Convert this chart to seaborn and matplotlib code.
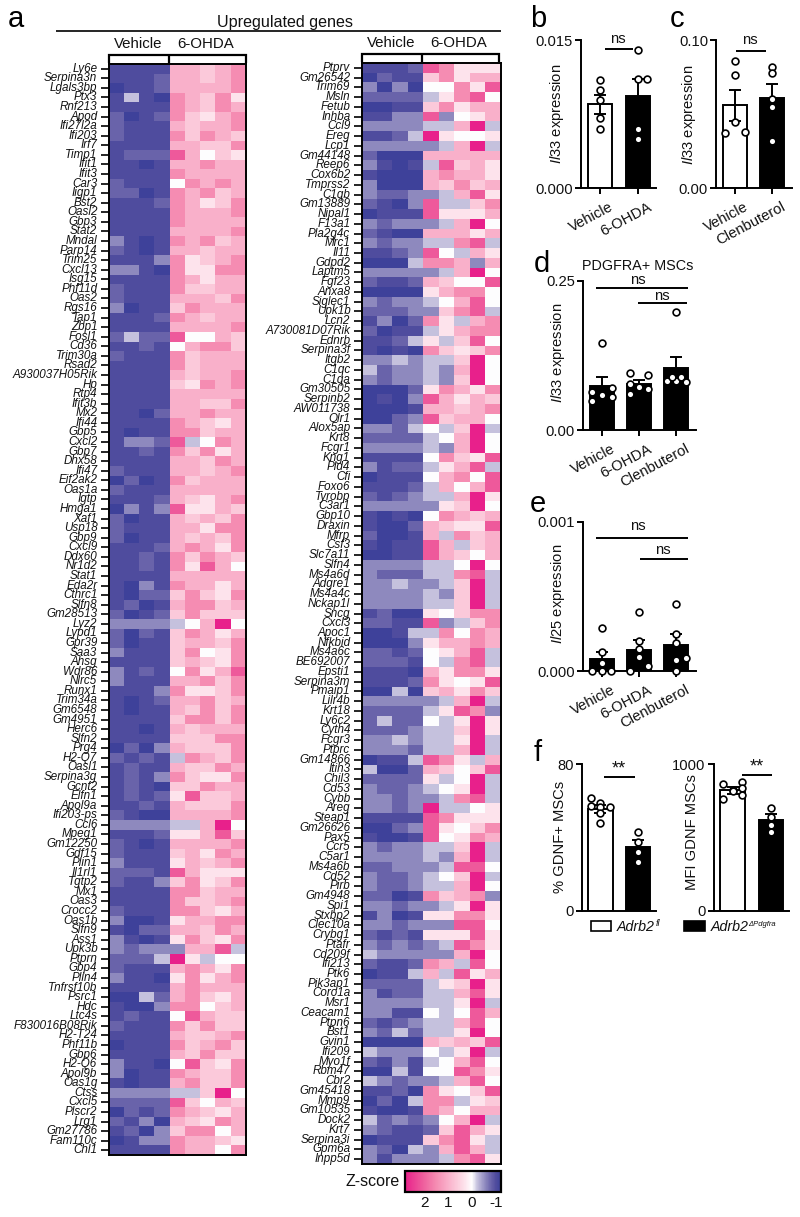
import matplotlib
matplotlib.use("Agg")
import matplotlib.pyplot as plt
from matplotlib.colors import LinearSegmentedColormap, Normalize
from matplotlib.cm import ScalarMappable
from matplotlib.transforms import ScaledTranslation
import numpy as np
import pandas as pd
import seaborn as sns

# ---------------- heatmap data ----------------
SAMPLES = ["V1", "V2", "V3", "V4", "O1", "O2", "O3", "O4", "O5"]
# z-score read from each cell's shade, coded per character
Z_CODES = {"0": -1.2, "1": -1.0, "2": -0.8, "3": -0.55, "4": -0.22, "5": 0.0,
           "6": 0.3, "7": 0.65, "8": 1.0, "9": 1.5, "y": 2.1, "x": 2.8}

LEFT_GENES = ["Ly6e","Serpina3n","Lgals3bp","Ptx3","Rnf213","Apod","Ifi27l2a","Ifi203","Irf7","Timp1",
"Ifit1","Ifit3","Car3","Iigp1","Bst2","Oasl2","Gbp3","Stat2","Mndal","Parp14",
"Trim25","Cxcl13","Isg15","Phf11d","Oas2","Rgs16","Tap1","Zbp1","Fosl1","Cd36",
"Trim30a","Rsad2","A930037H05Rik","Hp","Rtp4","Ifit3b","Mx2","Ifi44","Gbp5","Cxcl2",
"Gbp7","Dhx58","Ifi47","Eif2ak2","Oas1a","Igtp","Hmga1","Xaf1","Usp18","Gbp9",
"Cxcl9","Ddx60","Nr1d2","Stat1","Eda2r","Cthrc1","Slfn8","Gm28513","Lyz2","Lypd1",
"Gpr39","Saa3","Ahsg","Wdr86","Nlrc5","Runx1","Trim34a","Gm6548","Gm4951","Herc6",
"Slfn2","Prg4","H2-Q7","Oasl1","Serpina3g","Gcnt2","Elfn1","Apol9a","Ifi203-ps","Ccl6",
"Mpeg1","Gm12250","Gdf15","Plin1","Il1rl1","Tgtp2","Mx1","Oas3","Crocc2","Oas1b",
"Slfn9","Ass1","Upk3b","Ptprn","Gbp4","Plin4","Tnfrsf10b","Psrc1","Hdc","Ltc4s",
"F830016B08Rik","H2-T24","Phf11b","Gbp6","H2-Q6","Apol9b","Oas1g","Ctss","Cxcl5","Plscr2",
"Lrg1","Gm27786","Fam110c","Chl1"]

LEFT_ROWS = ["111188789","111288789","011288889","141098796","111198798","201297689","211187889","211197987","111188779","1222y8576",
"110188988","111198888","211159898","220198978","111298679","111198889","111198888","111188889","310198978","210188788",
"111396789","331096699","111198688","211197788","211188879","301179888","111298788","111188889","2422y5587","112158997",
"211197888","111197888","111187889","111176989","111188888","111188779","110288988","111198768","101199788","1332y4598",
"112197968","111188798","211188789","020197888","211188888","111287689","0313y6687","201187879","211188699","201187879",
"111289869","112197987","11219 6y85","111188888","103198868","102279769","120189978","201279777","33334 58x5","202179868",
"201178879","311179569","111178769","312159 68y","311188979","111396679","101288978","101187979","111179979","110187888",
"111177799","020387779","212149879","121187798","121397669","121077988","12126y778","112187779","210088889","333344 8x5",
"111266 8y7","210188889","211178698","311168789","2221y8666","211379679","111199788","111197789","211199768","300168899",
"102288798","310169769","323338 8y4","2224x6455","211189869","311069689","111189888","004289 768","100399578","12115y877",
"211197977","111187789","011197897","111187977","31105y769","301198779","101189779","333344 7x5","2222y7587","021298768",
"213087698","120379958","013398876","111198859"]

RIGHT_GENES = ["Ptprv","Gm26542","Trim69","Msln","Fetub","Inhba","Ccl9","Ereg","Lcp1","Gm44148",
"Reep6","Cox6b2","Tmprss2","C1qb","Gm13889","Nipal1","F13a1","Pla2g4c","Mrc1","Il11",
"Gdpd2","Laptm5","Fgf23","Anxa8","Siglec1","Upk1b","Lcn2","A730081D07Rik","Ednrb","Serpina3f",
"Itgb2","C1qc","C1qa","Gm30505","Serpinb2","AW011738","Olr1","Alox5ap","Krt8","Fcgr1",
"Kng1","Pld4","Cfi","Foxo6","Tyrobp","C3ar1","Gbp10","Draxin","Mfrp","Csf3",
"Slc7a11","Slfn4","Ms4a6d","Adgre1","Ms4a4c","Nckap1l","Sncg","Cxcl3","Apoc1","Nfkbid",
"Ms4a6c","BE692007","Epsti1","Serpina3m","Pmaip1","Lilr4b","Krt18","Ly6c2","Cyth4","Fcgr3",
"Ptprc","Gm14866","Itih3","Chil3","Cd53","Cybb","Areg","Steap1","Gm26626","Pax5",
"Ccr5","C5ar1","Ms4a6b","Cd52","Pirb","Gm4948","Spi1","Stxbp2","Clec10a","Crybg1",
"Ptafr","Cd209f","Ifi213","Ptk6","Pik3ap1","Coro1a","Msr1","Ceacam1","Ptpn6","Bst1",
"Gvin1","Ifi209","Myo1f","Rbm47","Cbr2","Gm45418","Mmp9","Gm10535","Dock2","Krt7",
"Serpina3i","Gpm6a","Inpp5d"]

RIGHT_ROWS = ["1112y9666","021179688","303055 9 6y","222246 9y5","001179688","1133y3568","333344 8x4","1124x6556","333334 8x4","200088888",
"31014y786","100089886","300087978","322334 8y6","2103y4479","0111y6668","323334 8x5","210088868","323344 9y4","1123y5486",
"000499838","333334 8x5","211287 55y","000068995","323345 8y5","222337 9y4","130296489","201146899","112464 7y5","101097679",
"334344 7x5","423343 8x5","323343 7x5","000269869","0103y8687","000188789","0023y7885","332454 7x4","222245 8x5","333343 8x5",
"11115976y","312246 8y4","011158 95y","111248 58y","212344 8x6","333336 7x5","101059878","100287 66y","200184978","1011y8478",
"0011y8758","333344 5x5","322244 9y4","334334 7x4","333343 7x4","333344 7x4","120065799","2211y3479","001449598","000368898",
"221256 8y4","222154 9y4","111086996","11129656y","004078697","333334 8x4","222246y93","242254 6x6","222344 7x6","334344 6x4",
"333244 8x4","0114y9648","400287 57y","222264 5x4","322345 6x4","332334 9y4","3323x4456","1111y9666","0023y6579","1001y5698",
"323344 7x4","333343 8x4","223334 yy5","322345 7x4","322344 8x5","220197893","332334 6x6","130166996","332333 yy5","212166 6y6",
"32323 4y96","433333 8x5","211298 4y5","011484y68","222246 7x6","312244 8y6","333344 6x4","331154 5y8","212344 8y5","324244 6x5",
"00008787y","433354 6x4","213145 8y5","004155y96","432334 8y5","11209657y","020499467","100198588","423235 8x4","321127y86",
"011179y64","320438y84","313334 9y6"]

# ---------------- bar panel data ----------------
B_CATS = ["Vehicle", "6-OHDA"]
B_MEANS = [0.0085, 0.0093]
B_ERRS = [0.00095, 0.0017]
B_PTS_GROUP = [0, 0, 0, 0, 0, 1, 1, 1, 1, 1]
B_PTS_OFF = [0, 0, 0, 0, 0, 0, 0, 0.24, 0, 0]
B_PTS_Y = [0.0109, 0.0099, 0.0089, 0.0071, 0.0060, 0.0140, 0.0110, 0.0110, 0.0060, 0.0050]

C_CATS = ["Vehicle", "Clenbuterol"]
C_MEANS = [0.056, 0.061]
C_ERRS = [0.0105, 0.0095]
C_PTS_GROUP = [0, 0, 0, 0, 0, 1, 1, 1, 1, 1]
C_PTS_OFF = [0, 0, 0, -0.25, 0.27, 0, 0, 0, 0, 0]
C_PTS_Y = [0.086, 0.0764, 0.0448, 0.037, 0.0376, 0.082, 0.0775, 0.060, 0.055, 0.032]

D_CATS = ["Vehicle", "6-OHDA", "Clenbuterol"]
D_MEANS = [0.0737, 0.0765, 0.1033]
D_ERRS = [0.0145, 0.0072, 0.0189]
D_PTS_GROUP = [0]*6 + [1]*6 + [2]*6
D_PTS_OFF = [0, -0.25, 0.27, 0, -0.25, 0.27, -0.25, 0.25, -0.25, 0, 0.25, -0.25, 0, -0.25, 0, -0.125, 0.125, 0.25]
D_PTS_Y = [0.1456, 0.064, 0.0708, 0.0586, 0.0486, 0.0547,
           0.0949, 0.0926, 0.0765, 0.0725, 0.0686, 0.0598,
           0.1975, 0.0825, 0.0825, 0.0887, 0.0887, 0.0804]

E_CATS = D_CATS
E_MEANS = [0.000078, 0.000141, 0.000172]
E_ERRS = [0.000047, 0.000067, 0.000076]
E_PTS_GROUP = [0]*6 + [1]*6 + [2]*6
E_PTS_OFF = [0, 0, 0, -0.25, 0, 0.25, 0, 0, 0, 0, 0.25, -0.25, 0, 0, 0, 0.25, 0, 0]
E_PTS_Y = [0.000286, 0.000125, 0.000051, 0, 0, 0,
           0.000393, 0.0002, 0.000147, 0.000096, 0.000033, 0,
           0.000449, 0.000248, 0.000185, 0.000087, 0.000071, 0]

F1_CATS = ["fl", "dPdgfra"]
F1_MEANS = [55.5, 34.8]
F1_ERRS = [2.1, 3.8]
F1_PTS_GROUP = [0]*7 + [1]*4
F1_PTS_OFF = [-0.25, -0.25, 0, 0.25, 0, 0, 0, 0, 0, 0, 0]
F1_PTS_Y = [61.3, 57.1, 59, 56.8, 56.4, 53.3, 48, 43.2, 37.7, 32.3, 26.8]

F2_CATS = F1_CATS
F2_MEANS = [820, 622]
F2_ERRS = [22, 36]
F2_PTS_GROUP = [0]*7 + [1]*4
F2_PTS_OFF = [-0.25, 0.25, 0.25, 0.25, 0, -0.25, 0, 0, 0, 0, 0]
F2_PTS_Y = [862, 880, 835, 790, 820, 760, 815, 703, 638, 586, 540]

FILLS_2 = ["white", "black"]
FILLS_BLACK = ["black", "black", "black"]

# ---------------- style ----------------
sns.set_style("ticks")
plt.rcParams["font.family"] = ["Liberation Sans", "DejaVu Sans"]
plt.rcParams["mathtext.fontset"] = "custom"
plt.rcParams["mathtext.rm"] = "Liberation Sans"
plt.rcParams["mathtext.it"] = "Liberation Sans:italic"
plt.rcParams["axes.unicode_minus"] = False

W, H = 800, 1217
fig = plt.figure(figsize=(W/100, H/100), dpi=100, facecolor="white")

over = fig.add_axes([0, 0, 1, 1], zorder=10)
over.set_xlim(0, W); over.set_ylim(H, 0); over.axis("off"); over.patch.set_alpha(0)

def pxaxes(x0, y0, x1, y1):
    return fig.add_axes([x0/W, 1-y1/H, (x1-x0)/W, (y1-y0)/H])

zmin, zmax = -1.2, 2.8
def stop(z):
    return (z-zmin)/(zmax-zmin)
cmap = LinearSegmentedColormap.from_list("zs", [
    (stop(-1.2), "#3e419a"), (stop(-1.0), "#504d9e"), (stop(-0.8), "#6a64ab"),
    (stop(-0.55), "#8f8abf"), (stop(-0.22), "#c6c2de"), (stop(0), "#ffffff"),
    (stop(0.3), "#fde3ec"), (stop(0.65), "#fbc9da"), (stop(1.0), "#f9b0ca"),
    (stop(1.5), "#f58cb2"), (stop(2.1), "#ee5a9b"), (stop(2.8), "#e8208b")])

def draw_heat(genes, rows, box):
    codes = [r.replace(" ", "") for r in rows]
    mat = np.array([[Z_CODES[c] for c in r] for r in codes])
    df = pd.DataFrame(mat, index=genes, columns=SAMPLES)
    ax = pxaxes(*box)
    sns.heatmap(df, ax=ax, cmap=cmap, vmin=zmin, vmax=zmax, cbar=False,
                xticklabels=False, yticklabels=True, linewidths=0)
    ax.set_xlabel(""); ax.set_ylabel("")
    for s in ax.spines.values():
        s.set_visible(True); s.set_linewidth(1.4); s.set_color("black")
    ax.tick_params(axis="y", length=5.5, width=1.2, color="black", pad=2.5, labelsize=8.4, left=True)
    for t in ax.get_yticklabels():
        t.set_rotation(0); t.set_fontstyle("italic"); t.set_color("#111111")
    return ax

draw_heat(LEFT_GENES, LEFT_ROWS, (108.5, 64, 246, 1155))
draw_heat(RIGHT_GENES, RIGHT_ROWS, (361.5, 63, 500.5, 1164))

def draw_bars(box, cats, fills, means, errs, grp, off, ys, top, ticklabels, ylabel, labelpos,
              xlim_right, xticks=True):
    ax = pxaxes(*box)
    df = pd.DataFrame({"c": cats, "m": means})
    sns.barplot(data=df, x="c", y="m", hue="c", palette=dict(zip(cats, fills)), legend=False,
                width=0.64, edgecolor="black", linewidth=1.4, errorbar=None, ax=ax, zorder=2)
    ax.errorbar(range(len(cats)), means, yerr=errs, fmt="none", ecolor="black",
                elinewidth=1.4, capsize=4.2, capthick=1.4, zorder=3)
    xs = np.array(grp) + np.array(off)
    sns.scatterplot(x=xs, y=ys, ax=ax, s=24, color="white", edgecolor="black", linewidth=1.2,
                    zorder=4, clip_on=False, legend=False)
    ax.set_xlim(-0.5, xlim_right)
    ax.set_ylim(0, top)
    ax.set_yticks([0, top]); ax.set_yticklabels(ticklabels)
    ax.set_xticks(range(len(cats)))
    ax.patch.set_alpha(0)
    for s in ("top", "right"):
        ax.spines[s].set_visible(False)
    for s in ("left", "bottom"):
        ax.spines[s].set_linewidth(1.4); ax.spines[s].set_color("black")
    ax.tick_params(axis="y", length=4.2, width=1.4, color="black", labelsize=10.6, pad=1.5, labelcolor="#111111")
    if xticks:
        ax.set_xticklabels(cats)
        ax.tick_params(axis="x", length=4, width=1.4, color="black", labelsize=10.6, pad=1, labelcolor="#111111")
        shift = ScaledTranslation(9/100, -5/100, fig.dpi_scale_trans)
        for t in ax.get_xticklabels():
            t.set_rotation(28); t.set_ha("right"); t.set_va("top"); t.set_rotation_mode("anchor")
            t.set_transform(t.get_transform() + shift)
    else:
        ax.set_xticks([]); ax.set_xlabel("")
    ax.set_xlabel("")
    ax.set_ylabel(ylabel, fontsize=10.6, color="#111111")
    ax.yaxis.set_label_coords(labelpos[0], labelpos[1], transform=over.transData)
    return ax

IL33 = r"$\mathit{Il33}$ expression"
IL25 = r"$\mathit{Il25}$ expression"
draw_bars((581, 40, 656, 188), B_CATS, FILLS_2, B_MEANS, B_ERRS, B_PTS_GROUP, B_PTS_OFF, B_PTS_Y,
          0.015, ["0.000", "0.015"], IL33, (566, 114), 1.47)
draw_bars((716, 40, 792, 188), C_CATS, FILLS_2, C_MEANS, C_ERRS, C_PTS_GROUP, C_PTS_OFF, C_PTS_Y,
          0.10, ["0.00", "0.10"], IL33, (698, 115), 1.53)
draw_bars((583, 280.7, 696, 430), D_CATS, FILLS_BLACK, D_MEANS, D_ERRS, D_PTS_GROUP, D_PTS_OFF, D_PTS_Y,
          0.25, ["0.00", "0.25"], IL33, (567, 353), 2.53)
draw_bars((583, 521.7, 696, 671), E_CATS, FILLS_BLACK, E_MEANS, E_ERRS, E_PTS_GROUP, E_PTS_OFF, E_PTS_Y,
          0.001, ["0.000", "0.001"], IL25, (567, 594), 2.53)
draw_bars((581.5, 764, 656, 911), F1_CATS, FILLS_2, F1_MEANS, F1_ERRS, F1_PTS_GROUP, F1_PTS_OFF, F1_PTS_Y,
          80, ["0", "80"], "% GDNF+ MSCs", (567, 837), 1.47, xticks=False)
draw_bars((713.5, 764, 789, 911), F2_CATS, FILLS_2, F2_MEANS, F2_ERRS, F2_PTS_GROUP, F2_PTS_OFF, F2_PTS_Y,
          1000, ["0", "1000"], "MFI GDNF MSCs", (699, 832), 1.47, xticks=False)

# ---------------- colour bar ----------------
cax = pxaxes(405, 1171, 500.7, 1191.5)
cb = fig.colorbar(ScalarMappable(Normalize(zmin, zmax), cmap), cax=cax, orientation="horizontal")
cax.invert_xaxis()
cb.set_ticks([2, 1, 0, -1], labels=["2", "1", "0", "-1"])
cax.tick_params(axis="x", direction="in", length=3, width=1.2, top=True, bottom=True, color="black",
                labelsize=11, pad=3.5, labelcolor="#111111")
cb.outline.set_linewidth(1.6); cb.outline.set_edgecolor("black")

# ---------------- annotations (pixel coordinates) ----------------
def T(x, y, s, **kw):
    kw.setdefault("color", "#111111")
    kw.setdefault("ha", "center"); kw.setdefault("va", "center"); kw.setdefault("fontsize", 10.6)
    over.text(x, y, s, **kw)
def L(xs, ys, lw=1.4):
    over.plot(xs, ys, color="black", lw=lw, solid_capstyle="butt", solid_joinstyle="miter")

for x, y, s, fs in [(8, 27, "a", 21), (530, 27, "b", 21), (670, 27, "c", 21),
                    (534, 272, "d", 21), (530, 512, "e", 21), (534, 761, "f", 21)]:
    T(x, y, s, fontsize=fs, ha="left", va="baseline", color="black")

T(285, 22, "Upregulated genes", fontsize=11.6)
L([56, 501], [31, 31], 1.2)

for x0, xm, x1, ytop, ybot in [(109, 168.5, 246, 55, 63), (361.5, 421.5, 499, 54, 62)]:
    L([x0, x0, x1, x1], [ybot, ytop, ytop, ybot], 1.6)
    L([xm, xm], [ytop, ybot], 1.6)
T(138, 44, "Vehicle", fontsize=10.8); T(205.5, 44, "6-OHDA", fontsize=10.8)
T(391, 43, "Vehicle", fontsize=10.8); T(458.5, 43, "6-OHDA", fontsize=10.8)
T(400, 1182, "Z-score", ha="right", fontsize=11.5)

# significance
T(618, 39, "ns"); L([605, 633], [49, 49])
T(750, 40, "ns"); L([736, 766], [50.5, 50.5])
T(638, 266, "PDGFRA+ MSCs", fontsize=10.4)
T(637.5, 279.5, "ns"); L([596, 688], [288, 288])
T(662, 296, "ns"); L([638, 687], [302.7, 302.7])
T(637.5, 526, "ns"); L([596, 688], [537.5, 537.5])
T(663, 550, "ns"); L([640, 688], [558.5, 558.5])
T(619, 773, "**", fontsize=13, va="baseline"); L([604, 635], [776.7, 776.7])
T(757, 771, "**", fontsize=13, va="baseline"); L([742, 772], [774.5, 774.5])

# legend of panel f
over.add_patch(plt.Rectangle((590.5, 921), 20, 10, facecolor="white", edgecolor="black", lw=1.2))
over.add_patch(plt.Rectangle((684, 920.5), 21, 10.5, facecolor="black", edgecolor="black", lw=1.2))
T(616.5, 931, "Adrb2", ha="left", va="baseline", style="italic", fontsize=10.3)
T(655.5, 926, "fl", ha="left", va="baseline", style="italic", fontsize=6.5)
T(710.5, 931, "Adrb2", ha="left", va="baseline", style="italic", fontsize=10.3)
T(748, 926, "\u0394Pdgfra", ha="left", va="baseline", style="italic", fontsize=5.5)

fig.savefig("out.png", dpi=100, facecolor="white")
